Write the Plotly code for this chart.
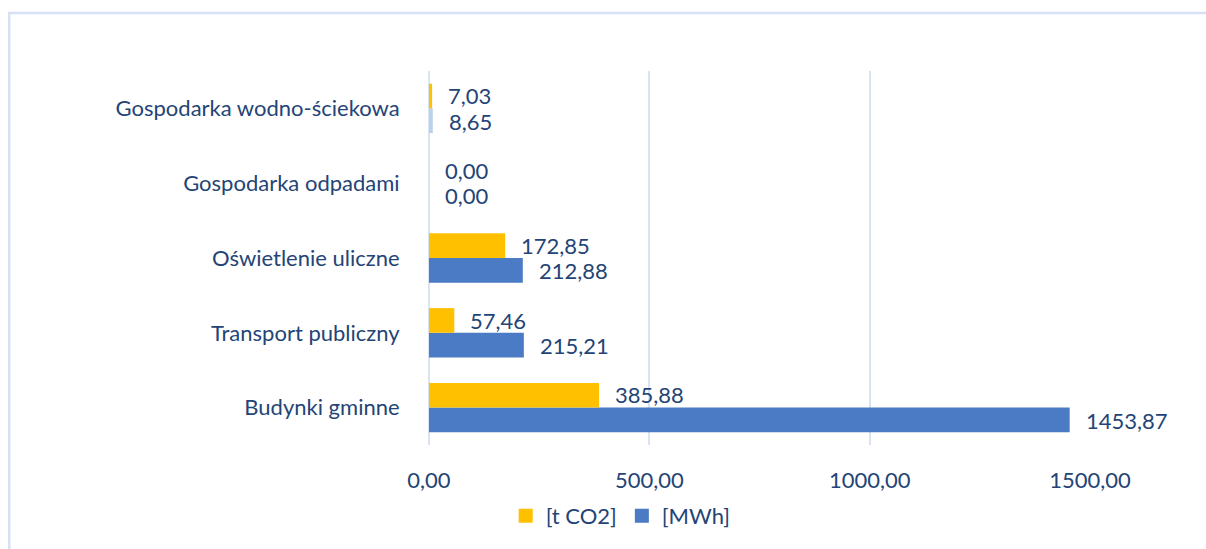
import plotly.graph_objects as go

# Categories listed bottom to top
categories = [
    "Budynki gminne",
    "Transport publiczny",
    "Oświetlenie uliczne",
    "Gospodarka odpadami",
    "Gospodarka wodno-ściekowa",
]
co2_t = [385.88, 57.46, 172.85, 0.00, 7.03]
energy_mwh = [1453.87, 215.21, 212.88, 0.00, 8.65]
x_ticks = [0, 500, 1000, 1500]

TEXT = "#244476"
FONT = "Lato, Calibri, 'Open Sans', sans-serif"
FS = 22
YELLOW = "#FFC000"
BLUE = "#4A7BC4"
GRID = "#D9E3F2"

mwh_colors = [BLUE] * len(categories)
mwh_colors[-1] = "#BCD0EA"

fig = go.Figure()
# MWh first so it sits below the CO2 bar within each group
fig.add_trace(go.Bar(
    name="[MWh]", y=categories, x=energy_mwh, orientation="h",
    marker=dict(color=mwh_colors, line=dict(width=0)),
    showlegend=False,
))
fig.add_trace(go.Bar(
    name="[t CO2]", y=categories, x=co2_t, orientation="h",
    marker=dict(color=YELLOW, line=dict(width=0)),
    showlegend=False,
))

# Square legend keys
for name, color, rank in (("[t CO2]", YELLOW, 1), ("[MWh]", BLUE, 2)):
    fig.add_trace(go.Scatter(
        x=[None], y=[None], mode="markers", name=name, legendrank=rank,
        marker=dict(symbol="square", size=14, color=color),
        showlegend=True,
    ))

# Value labels to the right of each bar
def fmt(v):
    return f"{v:.2f}".replace(".", ",")

for series, off in ((energy_mwh, -0.17), (co2_t, 0.17)):
    for i, v in enumerate(series):
        fig.add_annotation(
            x=v, y=i + off, xref="x", yref="y",
            text=fmt(v), showarrow=False, xanchor="left", yanchor="middle",
            xshift=14, font=dict(family=FONT, size=FS, color=TEXT),
        )

# Light blue chart frame
fig.add_shape(
    type="rect", xref="paper", yref="paper",
    x0=-0.635, x1=1.3, y0=-0.4, y1=1.155,
    line=dict(color="#D6E2F4", width=2.5), layer="below",
)

fig.update_layout(
    width=1206, height=549,
    margin=dict(l=429, r=116, t=71, b=100),
    paper_bgcolor="white", plot_bgcolor="white",
    barmode="group", bargap=0.34, bargroupgap=0,
    separators=", ",
    font=dict(family=FONT, size=FS, color=TEXT),
    showlegend=True,
    legend=dict(
        orientation="h", x=0.29, y=-0.19, xanchor="center", yanchor="middle",
        font=dict(family=FONT, size=FS, color=TEXT),
        itemwidth=30, tracegroupgap=0,
    ),
    xaxis=dict(
        range=[0, 1500], tickvals=x_ticks, tickformat=".2f",
        showgrid=True, gridcolor=GRID, gridwidth=1.5,
        zeroline=True, zerolinecolor=GRID, zerolinewidth=2,
        showline=False, ticks="outside", ticklen=16, tickcolor="rgba(0,0,0,0)",
        tickfont=dict(family=FONT, size=FS, color=TEXT),
        fixedrange=True,
    ),
    yaxis=dict(
        showgrid=False, zeroline=False, showline=False,
        ticks="outside", ticklen=24, tickcolor="rgba(0,0,0,0)",
        tickfont=dict(family=FONT, size=FS, color=TEXT),
        fixedrange=True,
    ),
)

fig.write_html("out.html")
